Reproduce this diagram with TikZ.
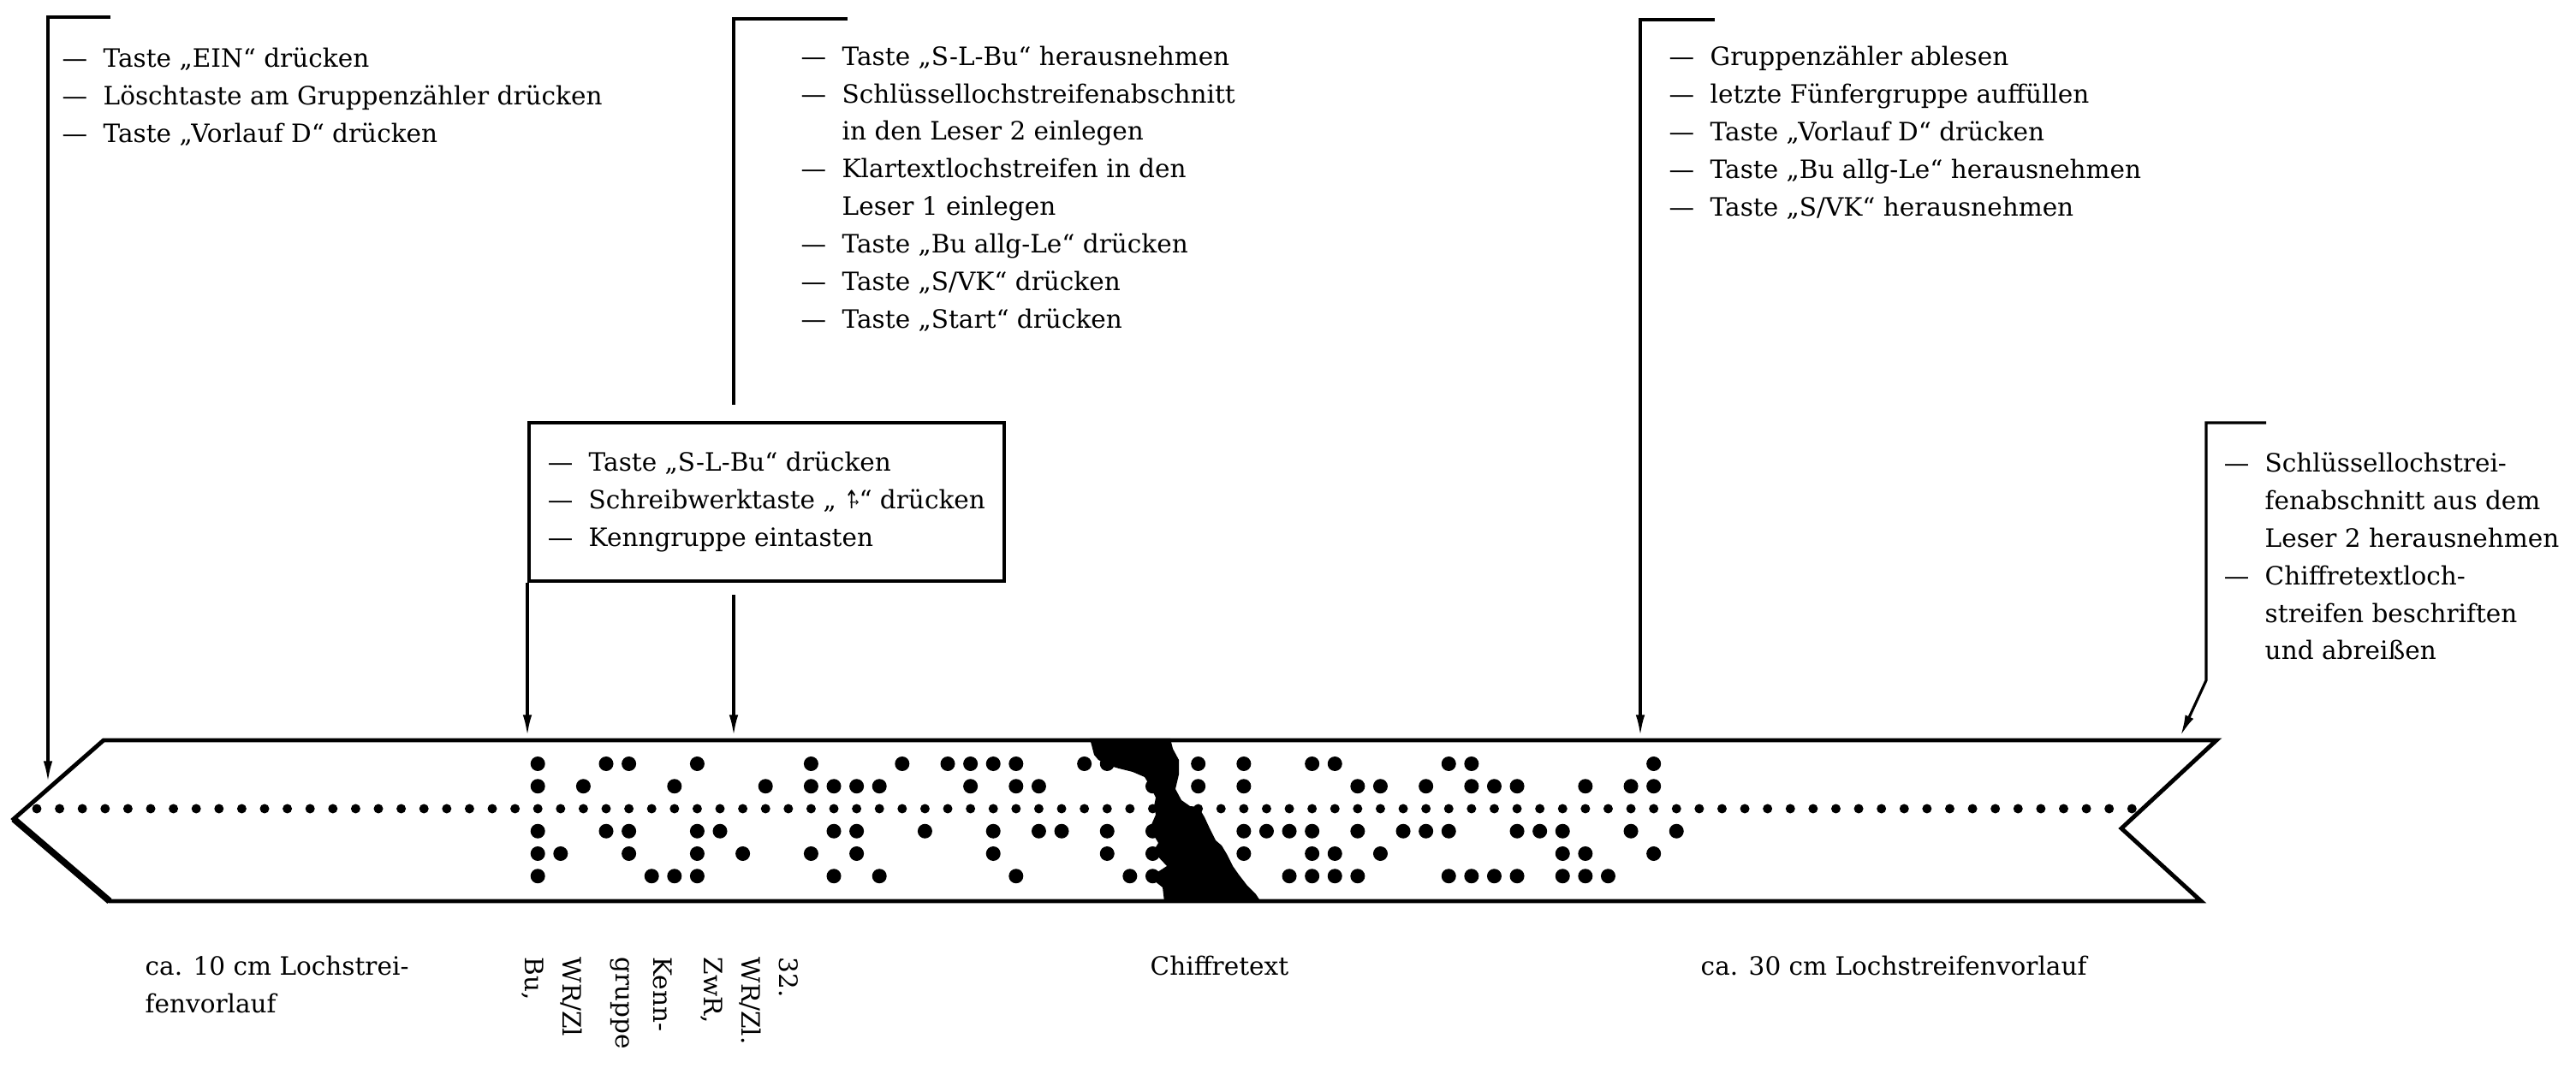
\documentclass[tikz,border=0pt]{standalone}
\usepackage{fontspec}
\setmainfont{DejaVu Serif}
\newfontfamily\symbolfont{DejaVu Sans}
\usepackage{graphicx}
\usepackage{tikz}
\usetikzlibrary{arrows.meta}

\newcommand{\punkt}{\makebox[4.8mm][l]{—}}
\newcommand{\weiter}{\hspace*{4.8mm}}
\newcommand{\wrzl}{{\symbolfont\ooalign{\scalebox{0.7}[1]{↑}\cr\hfil\raisebox{0.1em}{\scalebox{0.45}{→}}\cr}}}

\begin{document}
\begin{tikzpicture}[>={Latex[length=7pt,width=3pt]},
        hinweis/.style={anchor=north west, align=left, inner sep=0pt, font=\fontsize{8.4}{12.5}\selectfont},
        marke/.style={line width=0.9pt},
        streifen/.style={line width=1.4pt, line join=miter}]

        \useasboundingbox (0,0) rectangle (30.09,12.47);

        % Lochstreifen
        \draw[streifen] (0.16,2.90) -- (1.21,3.82) -- (25.89,3.82) -- (24.78,2.79) -- (25.71,1.94) -- (1.28,1.94) -- cycle;
        \draw[line width=2.2pt] (0.16,2.90) -- (1.28,1.94);

        % Transportloecher
        \foreach \k in {0,...,92}
            \fill ({0.43+0.266*\k},3.02) circle (0.055);

        % Datenloecher (Spur 3 ist die Transportspur)
        \foreach \k/\spuren in {22/{1,2,4,5,6}, 23/5, 24/2, 25/{1,4}, 26/{1,4,5}, 27/6, 28/{2,6},
                29/{1,4,5,6}, 30/4, 31/5, 32/2, 34/{1,2,5}, 35/{2,4,6}, 36/{2,4,5}, 37/{2,6},
                38/1, 39/4, 40/1, 41/{1,2}, 42/{1,4,5}, 43/{1,2,6}, 44/{2,4}, 45/4, 46/1,
                47/{1,4,5}, 48/6, 49/{2,4,5,6}, 51/{1,2}, 53/{1,2,4,5}, 54/4, 55/{4,6},
                56/{1,4,5,6}, 57/{1,5,6}, 58/{2,4,6}, 59/{2,5}, 60/4, 61/{2,4}, 62/{1,4,6},
                63/{1,2,6}, 64/{2,6}, 65/{2,4,6}, 66/4, 67/{4,5,6}, 68/{2,5,6}, 69/6,
                70/{2,4}, 71/{1,2,5}, 72/4}
            \foreach \s in \spuren
                \fill ({0.43+0.266*\k},{3.545-0.2625*(\s-1)}) circle (0.085);

        % Fleck im Chiffretext
        \fill (12.73,3.84) -- (13.67,3.84) -- (13.70,3.72) -- (13.77,3.59) -- (13.77,3.42) -- (13.73,3.25)
            -- (13.80,3.12) -- (13.90,3.05) -- (14.00,3.04) -- (14.07,2.92) -- (14.13,2.79) -- (14.20,2.65)
            -- (14.27,2.59) -- (14.33,2.49) -- (14.40,2.35) -- (14.47,2.25) -- (14.57,2.12) -- (14.67,2.02)
            -- (14.73,1.93) -- (13.60,1.93) -- (13.58,2.10) -- (13.43,2.22) -- (13.63,2.35) -- (13.47,2.52)
            -- (13.53,2.62) -- (13.43,2.79) -- (13.50,2.95) -- (13.48,3.05) -- (13.50,3.15) -- (13.43,3.29)
            -- (13.37,3.39) -- (13.23,3.45) -- (13.07,3.49) -- (12.97,3.52) -- (12.83,3.59) -- (12.78,3.65) -- cycle;

        % Bedienhinweise
        \node[hinweis] (ein) at (0.72,11.92) {\punkt Taste „EIN“ drücken\\
            \punkt Löschtaste am Gruppenzähler drücken\\
            \punkt Taste „Vorlauf D“ drücken};
        \node[hinweis] (start) at (9.35,11.94) {\punkt Taste „S-L-Bu“ herausnehmen\\
            \punkt Schlüssellochstreifenabschnitt\\
            \weiter in den Leser 2 einlegen\\
            \punkt Klartextlochstreifen in den\\
            \weiter Leser 1 einlegen\\
            \punkt Taste „Bu allg-Le“ drücken\\
            \punkt Taste „S/VK“ drücken\\
            \punkt Taste „Start“ drücken};
        \node[hinweis, draw, line width=1pt, inner xsep=2.2mm, inner ysep=3.4mm] (kasten) at (6.16,7.55)
            {\punkt Taste „S-L-Bu“ drücken\\
            \punkt Schreibwerktaste „ \wrzl“ drücken\\
            \punkt Kenngruppe eintasten};
        \node[hinweis] (ende) at (19.49,11.94) {\punkt Gruppenzähler ablesen\\
            \punkt letzte Fünfergruppe auffüllen\\
            \punkt Taste „Vorlauf D“ drücken\\
            \punkt Taste „Bu allg-Le“ herausnehmen\\
            \punkt Taste „S/VK“ herausnehmen};
        \node[hinweis] (abriss) at (25.97,7.19) {\punkt Schlüssellochstrei-\\
            \weiter fenabschnitt aus dem\\
            \weiter Leser 2 herausnehmen\\
            \punkt Chiffretextloch-\\
            \weiter streifen beschriften\\
            \weiter und abreißen};

        % Beschriftung unter dem Streifen
        \node[hinweis] (vorlauf10) at (1.69,1.31) {ca. 10 cm Lochstrei-\\fenvorlauf};
        \node[hinweis, rotate=-90] (wrbu) at (6.81,1.29) {WR/Zl\\Bu,};
        \node[hinweis, rotate=-90] (kenn) at (7.86,1.29) {Kenn-\\gruppe};
        \node[hinweis, rotate=-90] (zwr) at (9.33,1.29) {32.\\WR/Zl.\\ZwR,};
        \node[hinweis] (chiffre) at (13.43,1.31) {Chiffretext};
        \node[hinweis] (vorlauf30) at (19.86,1.31) {ca. 30 cm Lochstreifenvorlauf};

        % Hinweislinien
        \coordinate (a1) at (1.29,12.27);
        \coordinate (e1) at (0.56,12.27);
        \coordinate (z1) at (0.56,3.33);
        \draw[marke,->] (a1) -- (e1) -- (z1);

        \coordinate (a2) at (9.90,12.25);
        \coordinate (e2) at (8.57,12.25);
        \coordinate (z2) at (8.57,7.74);
        \draw[marke] (a2) -- (e2) -- (z2);

        \coordinate (z3) at (6.16,3.87);
        \draw[marke,->] (kasten.south west) -- (z3);
        \coordinate (a4) at (8.57,5.52);
        \coordinate (z4) at (8.57,3.87);
        \draw[marke,->] (a4) -- (z4);

        \coordinate (a5) at (20.03,12.24);
        \coordinate (e5) at (19.16,12.24);
        \coordinate (z5) at (19.16,3.87);
        \draw[marke,->] (a5) -- (e5) -- (z5);

        \coordinate (a6) at (26.47,7.53);
        \coordinate (e6) at (25.77,7.53);
        \coordinate (k6) at (25.77,4.52);
        \coordinate (z6) at (25.47,3.87);
        \draw[marke,->] (a6) -- (e6) -- (k6) -- (z6);

    \end{tikzpicture}
\end{document}
